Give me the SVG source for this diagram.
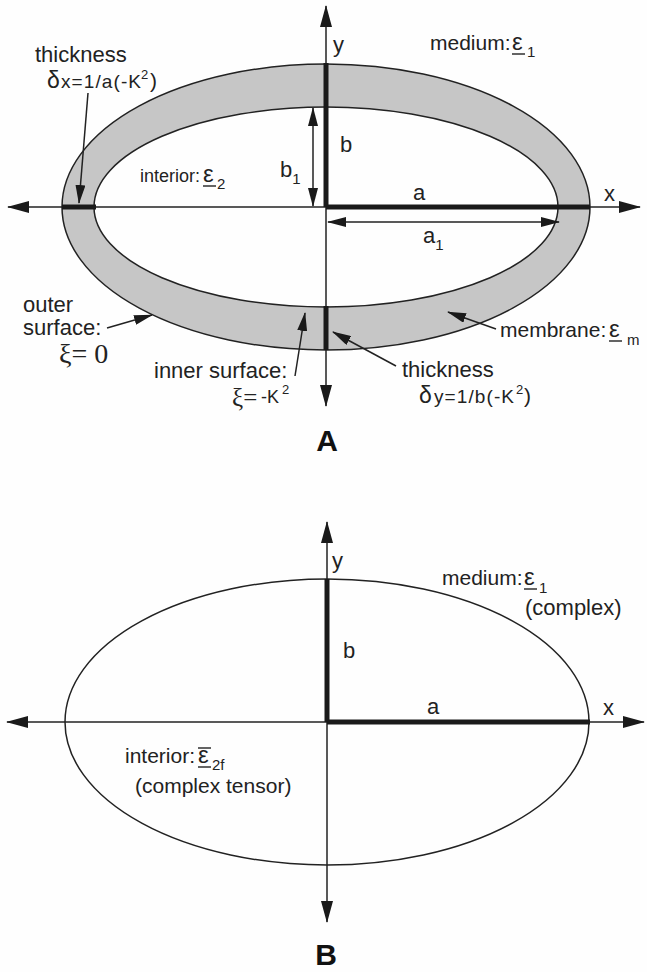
<svg xmlns="http://www.w3.org/2000/svg" width="647" height="972" viewBox="0 0 647 972">
<defs>
<marker id="ah" markerUnits="userSpaceOnUse" markerWidth="22" markerHeight="12" refX="21" refY="6" orient="auto-start-reverse">
<path d="M0,0 L22,6 L0,12 z" fill="#1a1a1a"/>
</marker>
<marker id="ahs" markerUnits="userSpaceOnUse" markerWidth="19" markerHeight="10" refX="18" refY="5" orient="auto-start-reverse">
<path d="M0,0 L19,5 L0,10 z" fill="#1a1a1a"/>
</marker>
</defs>
<style>
text{font-family:"Liberation Sans",Arial,sans-serif;fill:#222}
.s22{font-size:22px}
.s21{font-size:21px}
.s18{font-size:18px}
.eps{font-size:24px}
.sub{font-size:15px}
.ser{font-family:"Liberation Serif","Times New Roman",serif}
.axis{stroke:#222;stroke-width:1.5;fill:none}
.thick{stroke:#1a1a1a;stroke-width:5;fill:none}
.thin{stroke:#222;stroke-width:1.5;fill:none}
.lbl{font-size:30px;font-weight:bold;text-anchor:middle;fill:#111}
.ul{stroke:#222;stroke-width:1.4}
</style>
<rect width="647" height="972" fill="#fefefe"/>

<!-- Panel A -->
<g id="membraneA">
<path d="M62,207 A264,143 0 1,0 590,207 A264,143 0 1,0 62,207 Z M94,207 A232,100 0 1,0 558,207 A232,100 0 1,0 94,207 Z" fill="#c6c6c6" fill-rule="evenodd" stroke="#222" stroke-width="1.5"/>
</g>
<g id="connectorsA">
<line class="axis" x1="8" y1="207" x2="640" y2="207" marker-start="url(#ah)" marker-end="url(#ah)"/>
<line class="axis" x1="326" y1="6" x2="326" y2="406" marker-start="url(#ah)" marker-end="url(#ah)"/>
<line class="thick" x1="326" y1="63" x2="326" y2="207"/>
<line class="thick" x1="326" y1="207" x2="590" y2="207"/>
<line class="thick" x1="62" y1="207" x2="96" y2="207"/>
<line class="thick" x1="326" y1="306" x2="326" y2="350"/>
<line class="thin" x1="313" y1="108" x2="313" y2="206" marker-start="url(#ahs)" marker-end="url(#ahs)"/>
<line class="thin" x1="328" y1="222" x2="559" y2="222" marker-start="url(#ahs)" marker-end="url(#ahs)"/>
<line class="thin" x1="88" y1="93" x2="79" y2="203" marker-end="url(#ahs)"/>
<line class="thin" x1="107" y1="328" x2="152" y2="315" marker-end="url(#ahs)"/>
<line class="thin" x1="295" y1="376" x2="305" y2="313" marker-end="url(#ahs)"/>
<line class="thin" x1="496" y1="329" x2="448" y2="312" marker-end="url(#ahs)"/>
<line class="thin" x1="396" y1="366" x2="333" y2="332" marker-end="url(#ahs)"/>
</g>
<g id="labelsA">
<text class="s22" x="333" y="52">y</text>
<text class="s22" x="604" y="201">x</text>
<text class="s22" x="340" y="152">b</text>
<text class="s22" x="413" y="200">a</text>
<text class="s22" x="423" y="243">a<tspan font-size="15" dy="7">1</tspan></text>
<text class="s22" x="280" y="177">b<tspan font-size="15" dy="7">1</tspan></text>
<g id="mediumA">
<text class="s21" x="430" y="50">medium:</text>
<text class="eps" x="512" y="50">ε</text>
<line class="ul" x1="512" y1="54" x2="525" y2="54"/>
<text class="sub" x="527" y="57">1</text>
</g>
<g id="interiorA">
<text class="s18" x="140" y="182">interior:</text>
<text class="eps" x="203" y="182">ε</text>
<line class="ul" x1="203" y1="186" x2="216" y2="186"/>
<text class="sub" x="217" y="189">2</text>
</g>
<g id="thicknessX">
<text class="s22" x="35" y="62">thickness</text>
<text x="47" y="88"><tspan font-size="23">δ</tspan><tspan x="61" font-size="19" letter-spacing="1.1">x=1/a(-K</tspan><tspan x="141" y="79" font-size="13">2</tspan><tspan x="150" y="88" font-size="21">)</tspan></text>
</g>
<g id="outerSurface">
<text class="s22" x="23" y="312">outer</text>
<text class="s22" x="23" y="335">surface:</text>
<text class="ser" x="59" y="363" font-size="28">ξ= 0</text>
</g>
<g id="innerSurface">
<text class="s22" x="154" y="378">inner surface:</text>
<text x="232" y="406"><tspan class="ser" font-size="25">ξ=</tspan><tspan x="261" y="403" font-size="18">-K</tspan><tspan x="282" y="394" font-size="13">2</tspan></text>
</g>
<g id="membraneLabel">
<text class="s21" x="500" y="337">membrane:</text>
<text class="eps" x="609" y="337">ε</text>
<line class="ul" x1="609" y1="341" x2="622" y2="341"/>
<text class="sub" x="627" y="345" font-size="16">m</text>
</g>
<g id="thicknessY">
<text class="s22" x="402" y="377">thickness</text>
<text x="419" y="403"><tspan font-size="23">δ</tspan><tspan x="434" font-size="19" letter-spacing="1.1">y=1/b(-K</tspan><tspan x="516" y="394" font-size="13">2</tspan><tspan x="524" y="403" font-size="21">)</tspan></text>
</g>
<text class="lbl" x="327" y="451">A</text>
</g>

<!-- Panel B -->
<g id="ellipseB">
<ellipse cx="327" cy="722" rx="262" ry="143" fill="none" stroke="#222" stroke-width="1.5"/>
</g>
<g id="connectorsB">
<line class="axis" x1="7" y1="722" x2="644" y2="722" marker-start="url(#ah)" marker-end="url(#ah)"/>
<line class="axis" x1="327" y1="522" x2="327" y2="922" marker-start="url(#ah)" marker-end="url(#ah)"/>
<line class="thick" x1="327" y1="579" x2="327" y2="722"/>
<line class="thick" x1="327" y1="722" x2="590" y2="722"/>
</g>
<g id="labelsB">
<text class="s22" x="332" y="568">y</text>
<text class="s22" x="603" y="715">x</text>
<text class="s22" x="343" y="658">b</text>
<text class="s22" x="427" y="714">a</text>
<g id="mediumB">
<text class="s21" x="442" y="585">medium:</text>
<text class="eps" x="524" y="585">ε</text>
<line class="ul" x1="524" y1="589" x2="537" y2="589"/>
<text class="sub" x="539" y="593">1</text>
<text class="s22" x="525" y="615">(complex)</text>
</g>
<g id="interiorB">
<text class="s21" x="125" y="763">interior:</text>
<text class="eps" x="198" y="763">ε</text>
<line class="ul" x1="198" y1="748" x2="211" y2="748"/>
<line class="ul" x1="198" y1="767" x2="211" y2="767"/>
<text class="sub" x="212" y="770">2f</text>
<text class="s21" x="135" y="793">(complex tensor)</text>
</g>
<text class="lbl" x="326" y="965">B</text>
</g>
</svg>
